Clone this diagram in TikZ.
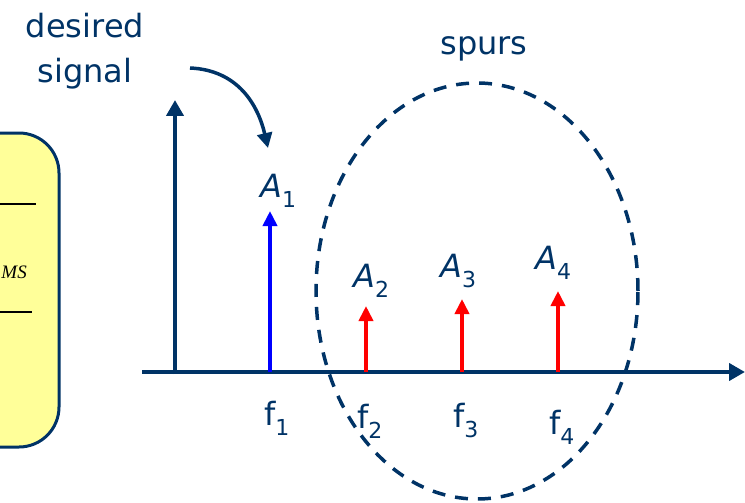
\documentclass[tikz,border=0pt]{standalone}
\usepackage{fontspec}
\setmainfont{DejaVu Sans}
\newfontfamily\serifit{Liberation Serif}
\usetikzlibrary{arrows.meta,shapes.geometric}
\definecolor{navy}{RGB}{0,51,102}
\definecolor{paleyellow}{RGB}{255,255,153}
\newcommand{\lbl}[2]{#1\raisebox{-0.32em}{\fontsize{22}{22}\selectfont\upshape #2}}
\tikzset{
  axis/.style={navy, line width=4pt, -{Triangle[length=16pt,width=17pt]}},
  spike/.style={line width=4pt, -{Triangle[length=15pt,width=14pt]}},
  txt/.style={navy, font=\fontsize{32}{32}\selectfont, inner sep=0pt},
}
\begin{document}
\begin{tikzpicture}[x=1pt,y=-1pt]
\useasboundingbox (0,0) rectangle (745,503);
\clip (0,0) rectangle (745,503);
% yellow box
\draw[navy, line width=3pt, fill=paleyellow, rounded corners=40pt] (-120,133) rectangle (59,447);
\coordinate (l1a) at (-10,204); \coordinate (l1b) at (36,204);
\coordinate (l2a) at (-10,312); \coordinate (l2b) at (32,312);
\draw[black, line width=1.2pt] (l1a) -- (l1b);
\draw[black, line width=1.2pt] (l2a) -- (l2b);
\node[anchor=base east, inner sep=0pt, font=\serifit\itshape\fontsize{19}{19}\selectfont] (ms) at (27,278) {MS};
% axes
\coordinate (o) at (175,374);
\coordinate (ytip) at (175,100);
\coordinate (xs) at (142,372);
\coordinate (xtip) at (745,372);
\draw[axis] (o) -- (ytip);
\draw[axis] (xs) -- (xtip);
% spikes
\coordinate (b1) at (270,372); \coordinate (t1) at (270,211);
\coordinate (b2) at (366,372); \coordinate (t2) at (366,306);
\coordinate (b3) at (462,372); \coordinate (t3) at (462,299);
\coordinate (b4) at (558,372); \coordinate (t4) at (558,291);
\draw[spike, blue] (b1) -- (t1);
\draw[spike, red] (b2) -- (t2);
\draw[spike, red] (b3) -- (t3);
\draw[spike, red] (b4) -- (t4);
% amplitude labels
\node[txt, anchor=base west] (A1) at (260,197) {\lbl{{\itshape A}}{1}};
\node[txt, anchor=base west] (A2) at (353,287) {\lbl{{\itshape A}}{2}};
\node[txt, anchor=base west] (A3) at (440,277) {\lbl{{\itshape A}}{3}};
\node[txt, anchor=base west] (A4) at (535,269) {\lbl{{\itshape A}}{4}};
% frequency labels
\node[txt, anchor=base west] (f1) at (264,425) {\lbl{f}{1}};
\node[txt, anchor=base west] (f2) at (357,428) {\lbl{f}{2}};
\node[txt, anchor=base west] (f3) at (453,427) {\lbl{f}{3}};
\node[txt, anchor=base west] (f4) at (549,434) {\lbl{f}{4}};
% spurs ellipse
\node[draw=navy, dash pattern=on 13pt off 10pt, line width=3.5pt, ellipse, minimum width=322pt, minimum height=416pt, inner sep=0pt] (spur) at (477,291) {};
\node[txt, anchor=base] (spurs) at (484,55) {spurs};
% desired signal
\node[txt, anchor=base] (d1) at (85,38) {desired};
\node[txt, anchor=base] (d2) at (85,83) {signal};
\coordinate (cs) at (190,68);
\coordinate (ce) at (268,148);
\draw[navy, line width=3.5pt, -{Triangle[length=15pt,width=15pt]}] (cs) .. controls (238,70) and (258,105) .. (ce);
\end{tikzpicture}
\end{document}
